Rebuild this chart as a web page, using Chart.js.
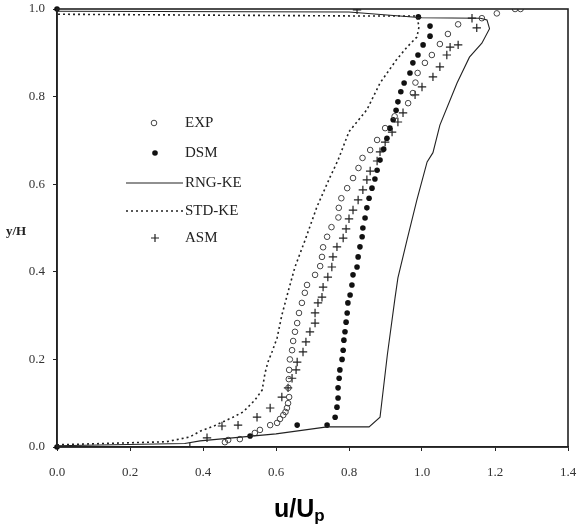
<!DOCTYPE html>
<html>
<head>
<meta charset="utf-8">
<script src="https://cdn.jsdelivr.net/npm/chart.js@4/dist/chart.umd.min.js"></script>
<style>
  body { margin: 0; background: #fff; }
  #wrap { width: 582px; height: 524px; }
</style>
</head>
<body>
<div id="wrap"><canvas id="velChart" width="582" height="524"></canvas></div>
<script>
// tick labels
var xTickLabels = ['0.0', '0.2', '0.4', '0.6', '0.8', '1.0', '1.2', '1.4'];
var yTickLabels = ['0.0', '0.2', '0.4', '0.6', '0.8', '1.0'];

// legend names
var seriesNames = ['EXP', 'DSM', 'RNG-KE', 'STD-KE', 'ASM'];

// [u/Up, y/H] pairs
var expPts = [
  [0.46, 0.011], [0.469, 0.016], [0.501, 0.018], [0.542, 0.032], [0.556, 0.039],
  [0.584, 0.05], [0.603, 0.055], [0.611, 0.064], [0.62, 0.073], [0.626, 0.08],
  [0.63, 0.089], [0.633, 0.1], [0.636, 0.114], [0.634, 0.135], [0.635, 0.155],
  [0.636, 0.176], [0.638, 0.2], [0.644, 0.221], [0.647, 0.242], [0.652, 0.263],
  [0.658, 0.283], [0.663, 0.306], [0.671, 0.329], [0.679, 0.352], [0.685, 0.37],
  [0.707, 0.393], [0.721, 0.413], [0.726, 0.434], [0.729, 0.456], [0.74, 0.48],
  [0.752, 0.502], [0.771, 0.524], [0.772, 0.546], [0.779, 0.568], [0.795, 0.591],
  [0.811, 0.614], [0.826, 0.637], [0.837, 0.66], [0.858, 0.678], [0.877, 0.701],
  [0.899, 0.728], [0.925, 0.755], [0.962, 0.785], [0.975, 0.808], [0.982, 0.832],
  [0.988, 0.854], [1.008, 0.877], [1.027, 0.895], [1.049, 0.92], [1.071, 0.943],
  [1.099, 0.965], [1.164, 0.979], [1.205, 0.99], [1.255, 1.0], [1.27, 1.0]
];
var dsmPts = [
  [0.0, 0.0], [0.0, 1.0],
  [0.529, 0.025], [0.658, 0.05], [0.74, 0.05], [0.762, 0.068], [0.767, 0.091],
  [0.77, 0.112], [0.77, 0.135], [0.773, 0.157], [0.775, 0.176], [0.781, 0.2],
  [0.784, 0.221], [0.786, 0.244], [0.789, 0.263], [0.792, 0.285], [0.795, 0.306],
  [0.797, 0.329], [0.803, 0.347], [0.808, 0.37], [0.811, 0.393], [0.822, 0.411],
  [0.825, 0.434], [0.83, 0.457], [0.836, 0.48], [0.838, 0.5], [0.844, 0.523],
  [0.849, 0.546], [0.855, 0.568], [0.863, 0.591], [0.871, 0.612], [0.877, 0.632],
  [0.885, 0.655], [0.895, 0.68], [0.904, 0.705], [0.912, 0.728], [0.921, 0.747],
  [0.929, 0.769], [0.934, 0.788], [0.942, 0.811], [0.951, 0.831], [0.967, 0.854],
  [0.975, 0.877], [0.989, 0.895], [1.003, 0.918], [1.022, 0.938], [1.022, 0.961],
  [0.99, 0.982]
];
var asmPts = [
  [0.364, 0.0], [0.411, 0.021], [0.452, 0.048], [0.496, 0.05], [0.548, 0.068],
  [0.584, 0.089], [0.616, 0.114], [0.633, 0.135], [0.644, 0.157], [0.655, 0.176],
  [0.658, 0.194], [0.674, 0.217], [0.682, 0.24], [0.693, 0.263], [0.707, 0.283],
  [0.707, 0.306], [0.715, 0.329], [0.726, 0.342], [0.729, 0.365], [0.742, 0.388],
  [0.753, 0.411], [0.756, 0.434], [0.767, 0.457], [0.784, 0.477], [0.792, 0.498],
  [0.8, 0.521], [0.811, 0.541], [0.825, 0.564], [0.838, 0.587], [0.849, 0.61],
  [0.858, 0.63], [0.877, 0.653], [0.885, 0.674], [0.899, 0.696], [0.918, 0.719],
  [0.934, 0.742], [0.948, 0.763], [0.981, 0.804], [1.0, 0.822], [1.03, 0.845],
  [1.049, 0.868], [1.068, 0.895], [1.077, 0.913], [1.099, 0.918], [1.15, 0.957],
  [1.137, 0.979], [0.822, 0.998]
];
var rngPts = [
  [0.0, 0.003], [0.35, 0.008], [0.392, 0.014], [0.6, 0.03], [0.74, 0.046],
  [0.855, 0.046], [0.885, 0.068], [0.905, 0.21], [0.926, 0.34], [0.934, 0.386],
  [0.959, 0.473], [0.986, 0.564], [1.014, 0.651], [1.03, 0.672], [1.049, 0.735],
  [1.096, 0.831], [1.13, 0.89], [1.164, 0.922], [1.185, 0.955], [1.178, 0.975],
  [1.16, 0.979], [1.0, 0.98], [0.8, 0.993], [0.0, 0.995]
];
var stdPts = [
  [0.0, 0.005], [0.3, 0.012], [0.364, 0.023], [0.392, 0.036], [0.43, 0.048],
  [0.482, 0.068], [0.51, 0.08], [0.542, 0.107], [0.562, 0.13], [0.57, 0.169],
  [0.578, 0.194], [0.589, 0.217], [0.603, 0.249], [0.616, 0.301], [0.633, 0.354],
  [0.652, 0.411], [0.68, 0.473], [0.712, 0.548], [0.748, 0.616], [0.77, 0.655],
  [0.8, 0.72], [0.849, 0.77], [0.885, 0.831], [0.93, 0.884], [0.959, 0.913],
  [0.986, 0.936], [0.992, 0.96], [0.985, 0.984], [0.84, 0.984], [0.0, 0.988]
];

function toXY(arr) {
  return arr.map(function(p){ return { x: p[0], y: p[1] }; });
}

var ink = '#222';
var serif = '"Liberation Serif", "DejaVu Serif", serif';

// frame, axis titles and the hand-drawn legend
var decorPlugin = {
  id: 'decor',
  afterDraw: function(chart) {
    var c = chart.ctx, a = chart.chartArea;
    c.save();
    c.strokeStyle = ink;
    c.lineWidth = 1.6;
    c.strokeRect(a.left, a.top, a.right - a.left, a.bottom - a.top);

    // y title (horizontal)
    c.fillStyle = ink;
    c.font = 'bold 13px ' + serif;
    c.textBaseline = 'middle';
    c.textAlign = 'left';
    c.fillText('y/H', 6, 232);

    // x title u/Up
    c.font = 'bold 25px "Liberation Sans", Arial, sans-serif';
    c.textBaseline = 'alphabetic';
    c.fillStyle = '#000';
    c.fillText('u/U', 274, 517);
    var w = c.measureText('u/U').width;
    c.font = 'bold 17px "Liberation Sans", Arial, sans-serif';
    c.fillText('p', 274 + w, 521);

    // legend
    var rows = [123, 153, 183, 211, 238];
    c.font = '15px ' + serif;
    c.fillStyle = ink;
    c.textBaseline = 'middle';
    seriesNames.forEach(function(name, i){
      c.fillText(name, 185, rows[i]);
    });
    c.lineWidth = 1;
    c.strokeStyle = '#444';
    c.beginPath(); c.arc(154, rows[0], 2.8, 0, Math.PI * 2); c.stroke();
    c.fillStyle = '#111';
    c.beginPath(); c.arc(155, rows[1], 2.8, 0, Math.PI * 2); c.fill();
    c.strokeStyle = ink;
    c.lineWidth = 1.1;
    c.beginPath(); c.moveTo(126, rows[2]); c.lineTo(183, rows[2]); c.stroke();
    c.lineWidth = 1.5;
    c.setLineDash([2, 3]);
    c.beginPath(); c.moveTo(126, rows[3]); c.lineTo(183, rows[3]); c.stroke();
    c.setLineDash([]);
    c.lineWidth = 1.2;
    c.beginPath();
    c.moveTo(151, rows[4]); c.lineTo(159, rows[4]);
    c.moveTo(155, rows[4] - 4); c.lineTo(155, rows[4] + 4);
    c.stroke();
    c.restore();
  }
};

var ctx = document.getElementById('velChart').getContext('2d');
var velChart = new Chart(ctx, {
  type: 'scatter',
  data: {
    datasets: [
      {
        label: seriesNames[2],
        data: toXY(rngPts),
        showLine: true,
        borderColor: ink,
        borderWidth: 1.1,
        pointRadius: 0,
        tension: 0
      },
      {
        label: seriesNames[3],
        data: toXY(stdPts),
        showLine: true,
        borderColor: ink,
        borderWidth: 1.6,
        borderDash: [2, 3],
        pointRadius: 0,
        tension: 0
      },
      {
        label: seriesNames[0],
        data: toXY(expPts),
        pointStyle: 'circle',
        pointRadius: 2.8,
        borderWidth: 1,
        borderColor: '#444',
        backgroundColor: 'rgba(255,255,255,0)'
      },
      {
        label: seriesNames[1],
        data: toXY(dsmPts),
        pointStyle: 'circle',
        pointRadius: 2.8,
        borderWidth: 0,
        backgroundColor: '#111',
        clip: false
      },
      {
        label: seriesNames[4],
        data: toXY(asmPts),
        pointStyle: 'cross',
        pointRadius: 4.2,
        borderWidth: 1.2,
        borderColor: ink
      }
    ]
  },
  options: {
    responsive: false,
    animation: false,
    layout: { padding: { left: 0, right: 14, top: 9, bottom: 0 } },
    plugins: {
      legend: { display: false },
      tooltip: { enabled: false }
    },
    scales: {
      x: {
        type: 'linear',
        min: 0,
        max: 1.4,
        afterFit: function(scale){
          scale.height = 77;
          scale.paddingLeft = 0; scale.paddingRight = 0; // keep plot box fixed
        },
        ticks: {
          stepSize: 0.2,
          padding: 14,
          color: '#333',
          font: { family: serif, size: 13 },
          callback: function(v, i){ return xTickLabels[i]; }
        },
        grid: { drawOnChartArea: false, tickLength: 4, color: ink },
        border: { color: ink, width: 1.6 }
      },
      y: {
        type: 'linear',
        min: 0,
        max: 1.0,
        afterFit: function(scale){
          scale.width = 57;
          scale.paddingTop = 0; scale.paddingBottom = 0;
        },
        ticks: {
          stepSize: 0.2,
          padding: 8,
          color: '#333',
          font: { family: serif, size: 13 },
          callback: function(v, i){ return yTickLabels[i]; }
        },
        grid: { drawOnChartArea: false, tickLength: 4, color: ink },
        border: { color: ink, width: 1.6 }
      }
    }
  },
  plugins: [decorPlugin]
});
</script>
</body>
</html>
